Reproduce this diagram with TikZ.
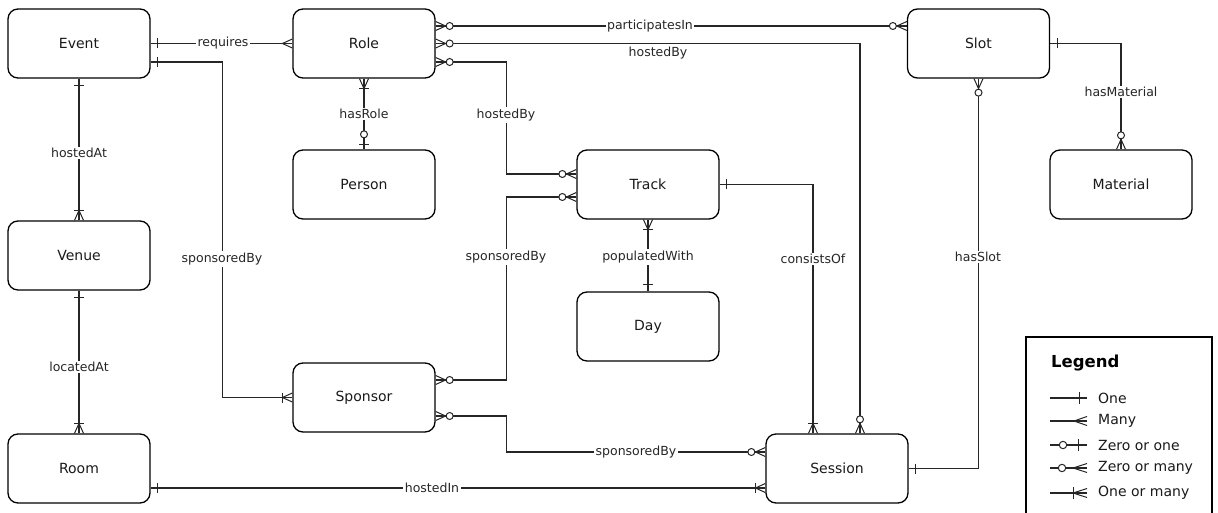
\documentclass[tikz,border=0pt]{standalone}
\usepackage{fontspec}
\setmainfont{DejaVu Sans}
\begin{document}
\begin{tikzpicture}[x=1pt,y=-1pt,
  ent/.style={draw, line width=1.3pt, rounded corners=10pt, minimum width=142pt, minimum height=69pt, inner sep=0pt, font=\fontsize{14}{16}\selectfont, text=black!90},
  conn/.style={line width=1.05pt, draw=black!85},
  lbl/.style={fill=white, inner sep=1.5pt, font=\fontsize{12.5}{14}\selectfont, text=black!85},
  mk/.style={line width=1pt, draw=black!85},
  pics/pone/.style={code={\draw[mk] (7,-5) -- (7,5);}},
  pics/pmany/.style={code={\draw[mk] (0,-4.5) -- (10,0) -- (0,4.5);}},
  pics/pzone/.style={code={\draw[mk] (5,-5) -- (5,5); \draw[mk,fill=white] (15,0) circle (3.5pt);}},
  pics/pzmany/.style={code={\draw[mk] (0,-4.5) -- (10,0) -- (0,4.5); \draw[mk,fill=white] (14,0) circle (3.5pt);}},
  pics/pomany/.style={code={\draw[mk] (0,-4.5) -- (10,0) -- (0,4.5); \draw[mk] (10,-5) -- (10,5);}},
  pics/lone/.style={code={\draw[mk] (8,-6) -- (8,6);}},
  pics/lmany/.style={code={\draw[mk] (0,-4.5) -- (13,0) -- (0,4.5);}},
  pics/lzone/.style={code={\draw[mk] (9,-6) -- (9,6); \draw[mk,fill=white] (24,0) circle (3.7pt);}},
  pics/lzmany/.style={code={\draw[mk] (0,-4.5) -- (14,0) -- (0,4.5); \draw[mk,fill=white] (25,0) circle (3.7pt);}},
  pics/lomany/.style={code={\draw[mk] (0,-4.5) -- (14,0) -- (0,4.5); \draw[mk] (14,-6) -- (14,6);}},
]
\useasboundingbox (0,0) rectangle (1218,513);
\clip (0,0) rectangle (1218,513);

% entities
\node[ent] (Event) at (79,43.5) {Event};
\node[ent] (Role) at (364,43.5) {Role};
\node[ent] (Slot) at (978.5,43.5) {Slot};
\node[ent] (Person) at (364,184.5) {Person};
\node[ent] (Track) at (648,184.5) {Track};
\node[ent] (Material) at (1121,184.5) {Material};
\node[ent] (Venue) at (79,255.5) {Venue};
\node[ent] (Day) at (648,326.5) {Day};
\node[ent] (Sponsor) at (364,397.5) {Sponsor};
\node[ent] (Room) at (79,468.5) {Room};
\node[ent] (Session) at (837,468.5) {Session};

% endpoint coordinates
\coordinate (eS) at ([yshift=-18.5pt]Event.east);
\coordinate (rE1) at ([yshift=17.5pt]Role.east);
\coordinate (rE2) at (Role.east);
\coordinate (rE3) at ([yshift=-18.5pt]Role.east);
\coordinate (slW) at ([yshift=17.5pt]Slot.west);
\coordinate (tW1) at ([yshift=10.5pt]Track.west);
\coordinate (tW2) at ([yshift=-12.5pt]Track.west);
\coordinate (sE1) at ([yshift=17.5pt]Sponsor.east);
\coordinate (sE2) at ([yshift=-18.5pt]Sponsor.east);
\coordinate (seW1) at ([yshift=16.5pt]Session.west);
\coordinate (seW2) at ([yshift=-19.5pt]Session.west);
\coordinate (roE) at ([yshift=-19.5pt]Room.east);
\coordinate (seN1) at ([xshift=-24pt]Session.north);
\coordinate (seN2) at ([xshift=23pt]Session.north);

% connectors
\draw[conn] (Event.east) -- (Role.west);
\draw[conn] (eS) -- ++(72,0) |- (Sponsor.west);
\draw[conn] (Event.south) -- (Venue.north);
\draw[conn] (Venue.south) -- (Room.north);
\draw[conn] (roE) -- (seW2);
\draw[conn] (rE1) -- (slW);
\draw[conn] (rE2) -| (seN2);
\draw[conn] (rE3) -- ++(71,0) |- (tW1);
\draw[conn] (Role.south) -- (Person.north);
\draw[conn] (sE1) -- ++(71,0) |- (tW2);
\draw[conn] (sE2) -- ++(71,0) |- (seW1);
\draw[conn] (Track.south) -- (Day.north);
\draw[conn] (Track.east) -| (seN1);
\draw[conn] (Slot.east) -| (Material.north);
\draw[conn] (Slot.south) |- (Session.east);

% markers
\pic[rotate=0] at (Event.east) {pone};
\pic[rotate=180] at (Role.west) {pmany};
\pic[rotate=0] at (eS) {pone};
\pic[rotate=180] at (Sponsor.west) {pomany};
\pic[rotate=270] at (Event.south) {pone};
\pic[rotate=90] at (Venue.north) {pomany};
\pic[rotate=270] at (Venue.south) {pone};
\pic[rotate=90] at (Room.north) {pomany};
\pic[rotate=0] at (roE) {pone};
\pic[rotate=180] at (seW2) {pomany};
\pic[rotate=0] at (rE1) {pzmany};
\pic[rotate=0] at (rE2) {pzmany};
\pic[rotate=0] at (rE3) {pzmany};
\pic[rotate=180] at (slW) {pzmany};
\pic[rotate=90] at (seN2) {pzmany};
\pic[rotate=180] at (tW1) {pzmany};
\pic[rotate=180] at (tW2) {pzmany};
\pic[rotate=0] at (sE1) {pzmany};
\pic[rotate=0] at (sE2) {pzmany};
\pic[rotate=180] at (seW1) {pzmany};
\pic[rotate=270] at (Role.south) {pomany};
\pic[rotate=90] at (Person.north) {pzone};
\pic[rotate=270] at (Track.south) {pomany};
\pic[rotate=90] at (Day.north) {pone};
\pic[rotate=0] at (Track.east) {pone};
\pic[rotate=90] at (seN1) {pomany};
\pic[rotate=0] at (Slot.east) {pone};
\pic[rotate=90] at (Material.north) {pzmany};
\pic[rotate=270] at (Slot.south) {pzmany};
\pic[rotate=0] at (Session.east) {pone};

% labels
\node[lbl] (l1) at (223,43.5) {requires};
\node[lbl] (l2) at (222,259) {sponsoredBy};
\node[lbl] (l3) at (79,153) {hostedAt};
\node[lbl] (l4) at (79,367) {locatedAt};
\node[lbl] (l5) at (432,488) {hostedIn};
\node[lbl] (l6) at (650,26) {participatesIn};
\node[lbl] (l7) at (658,53) {hostedBy};
\node[lbl] (l8) at (506,115) {hostedBy};
\node[lbl] (l9) at (364,114) {hasRole};
\node[lbl] (l10) at (506,257) {sponsoredBy};
\node[lbl] (l11) at (636,452) {sponsoredBy};
\node[lbl] (l12) at (648,257) {populatedWith};
\node[lbl] (l13) at (813,259) {consistsOf};
\node[lbl] (l14) at (1121,92) {hasMaterial};
\node[lbl] (l15) at (978,257) {hasSlot};

% legend
\draw[line width=1.2pt] (1026,337) rectangle (1212,540);
\node[anchor=west, inner sep=0pt, font=\bfseries\fontsize{16.5}{19}\selectfont] (lt) at (1051,363) {Legend};
\foreach \yy/\pp/\tt [count=\i] in {398/lone/One, 421/lmany/Many, 445/lzone/Zero or one, 468/lzmany/Zero or many, 493/lomany/One or many}{
  \coordinate (la\i) at (1050,\yy);
  \coordinate (lb\i) at (1087,\yy);
  \draw[conn] (la\i) -- (lb\i);
  \pic[rotate=180] at (lb\i) {\pp};
  \node[anchor=west, inner sep=0pt, font=\fontsize{14}{16}\selectfont, text=black!90] (lx\i) at (1098,\yy) {\tt};
}
\end{tikzpicture}
\end{document}
